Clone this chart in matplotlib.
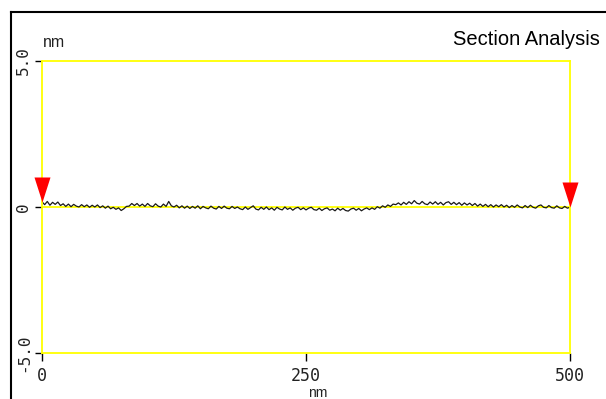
import matplotlib
matplotlib.use("Agg")
import matplotlib.pyplot as plt
import numpy as np
from matplotlib.lines import Line2D

# section profile height (nm), sampled every 2.5 nm from 0 to 500 nm
step_nm = 2.5
height = [
    0.18, 0.08, 0.19, 0.06, 0.16, 0.09, 0.17, 0.05,
    0.11, 0.02, 0.10, 0.01, 0.09, 0.03, 0.00, 0.08, 0.01, 0.07, -0.01, 0.06, 0.00, 0.07,
    -0.02, 0.04, -0.04, 0.03, -0.06, -0.01, -0.08, -0.03, -0.12,
    -0.06, 0.02, 0.03, 0.12, 0.05,
    0.12, 0.03, 0.10, 0.02, 0.12, 0.04, 0.01, 0.11, 0.03, 0.00, 0.10, 0.02,
    0.19,
    0.04, 0.00, 0.06, -0.03, 0.04, -0.04, 0.03, -0.05, 0.02, -0.04, 0.04, -0.06, 0.02,
    -0.03, -0.06, 0.03, -0.04, -0.07, 0.02, -0.05, 0.03, -0.04, -0.06, 0.02, -0.05, 0.00,
    -0.06, -0.09, 0.00, -0.08, -0.02, 0.04, -0.07, -0.10, -0.01, -0.08, 0.00, -0.09, -0.03, -0.11,
    -0.01, -0.07, -0.10, 0.00, -0.08, -0.03, -0.11, -0.04, -0.01, -0.09, -0.03, -0.10, -0.04, -0.01,
    -0.09, -0.11, -0.04, -0.12, -0.06, -0.03, -0.11, -0.07, -0.13, -0.04, -0.11,
    -0.05, -0.12, -0.14, -0.07, -0.04, -0.11, -0.05, -0.13, -0.07, -0.03, -0.09,
    -0.03, -0.08, 0.01, -0.04, 0.04, -0.01, 0.07, 0.02, 0.10, 0.08,
    0.14, 0.07, 0.16, 0.09, 0.18, 0.11, 0.22, 0.13, 0.10, 0.19, 0.11, 0.08, 0.17, 0.10,
    0.18, 0.09, 0.16, 0.07, 0.15, 0.18, 0.09, 0.16, 0.08, 0.15, 0.06, 0.14, 0.07, 0.13,
    0.05, 0.12, 0.03, 0.10, 0.02, 0.09, 0.01, 0.08, 0.00, 0.07, 0.01, 0.08,
    0.00, 0.06, -0.02, 0.05, -0.01, 0.07, 0.00, -0.03, 0.05, -0.02, 0.06, -0.01, -0.04,
    0.04, 0.07, -0.01, -0.03, 0.05, -0.02, -0.04, 0.04, -0.03, -0.05, 0.02, -0.04, -0.01,
]
dist = np.arange(len(height)) * step_nm

cursor_x = [0, 500]
x_ticks = [0, 250, 500]
x_ticklabels = ["0", "250", "500"]
y_ticks = [-5, 0, 5]
y_ticklabels = ["-5.0", "0", "5.0"]

yellow = "#ffff00"
mono = "DejaVu Sans Mono"

fig = plt.figure(figsize=(6.06, 3.99), dpi=100)
ax = fig.add_axes([42 / 606, 1 - 353 / 399, 528 / 606, 292 / 399])

ax.axhline(0, color=yellow, lw=1.3, zorder=1)
ax.plot(dist, height, color="#1a1a1a", lw=0.9, zorder=2)

# cursor markers: downward triangles with the tip on the profile
tri = [(0, 0), (-0.32, 1), (0.32, 1), (0, 0)]
cursor_y = [height[0], height[-1]]
ax.plot(cursor_x, cursor_y, ls="none", marker=tri, markersize=36,
        color="#ff0000", markeredgewidth=0, clip_on=False, zorder=3)

ax.set_xlim(0, 500)
ax.set_ylim(-5, 5)
for s in ax.spines.values():
    s.set_color(yellow)
    s.set_linewidth(1.3)

ax.set_xticks(x_ticks)
ax.set_xticklabels(x_ticklabels, fontfamily=mono, fontsize=12, color="#222222")
ax.set_yticks(y_ticks)
ax.set_yticklabels(y_ticklabels, fontfamily=mono, fontsize=11.5, color="#222222",
                   rotation=90, va="center")
ax.tick_params(axis="x", length=6, width=1, color="black", pad=4)
ax.tick_params(axis="y", length=5, width=1, color="black", pad=3)

fig.text(43 / 606, 1 - 47 / 399, "nm", fontfamily="Liberation Sans", fontsize=11.5,
         color="#222222", va="baseline")
fig.text(600 / 606, 1 - 45 / 399, "Section Analysis", fontfamily="Liberation Sans",
         fontsize=14.5, color="black", ha="right", va="baseline")
fig.text(318 / 606, 1 - 386 / 399, "nm", fontfamily="Liberation Sans", fontsize=10,
         color="#222222", ha="center", va="top")

# outer frame of the screenshot panel
fig.add_artist(Line2D([11 / 606, 11 / 606], [0, 1 - 12 / 399], color="black", lw=1.5))
fig.add_artist(Line2D([11 / 606, 1], [1 - 12 / 399, 1 - 12 / 399], color="black", lw=1.5))

fig.savefig("out.png", dpi=100)
